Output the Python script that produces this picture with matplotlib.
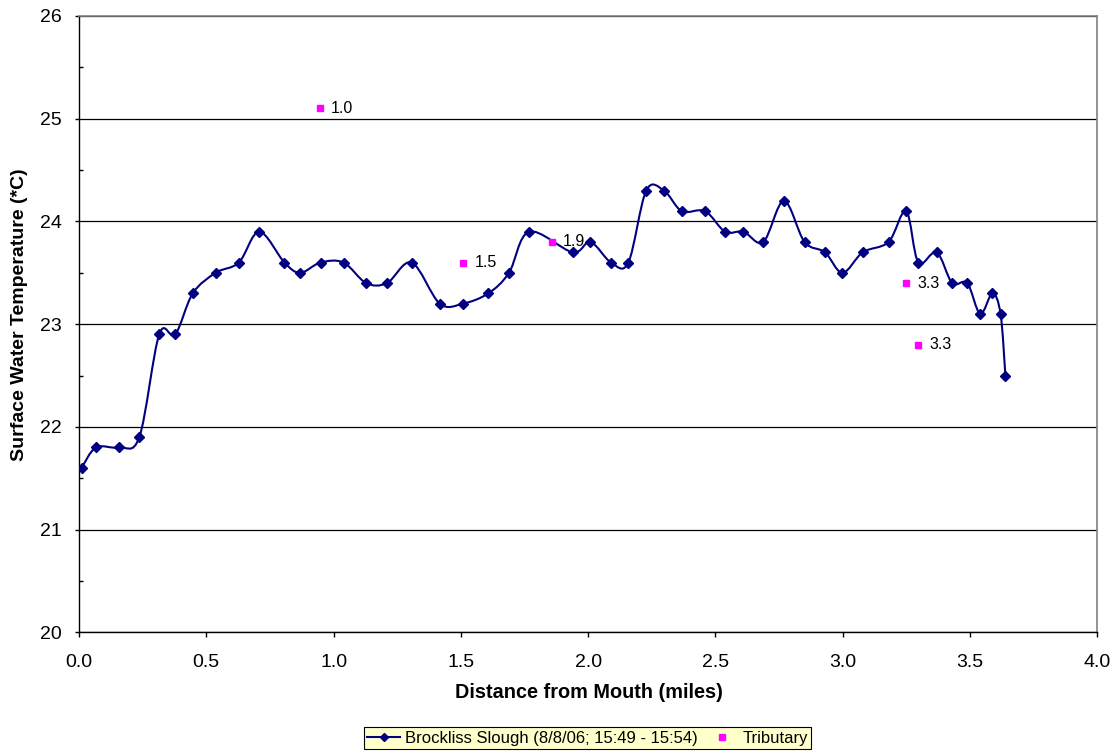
import matplotlib
matplotlib.use("Agg")
import matplotlib.pyplot as plt
from matplotlib.path import Path
from matplotlib.patches import PathPatch
from matplotlib.lines import Line2D
from matplotlib.ticker import MultipleLocator, FormatStrFormatter
import numpy as np

plt.rcParams['font.family'] = ['Liberation Sans', 'DejaVu Sans']

# Main series: Brockliss Slough
dist = [0.01, 0.067, 0.157, 0.237, 0.315, 0.378, 0.447, 0.537, 0.628, 0.708,
        0.807, 0.869, 0.949, 1.039, 1.128, 1.210, 1.307, 1.417, 1.509, 1.608,
        1.689, 1.768, 1.939, 2.009, 2.090, 2.158, 2.228, 2.298, 2.368, 2.459,
        2.538, 2.610, 2.688, 2.769, 2.850, 2.930, 2.999, 3.079, 3.180, 3.249,
        3.297, 3.369, 3.430, 3.489, 3.540, 3.588, 3.620, 3.639]
temp = [21.6, 21.8, 21.8, 21.9, 22.9, 22.9, 23.3, 23.5, 23.6, 23.9,
        23.6, 23.5, 23.6, 23.6, 23.4, 23.4, 23.6, 23.2, 23.2, 23.3,
        23.5, 23.9, 23.7, 23.8, 23.6, 23.6, 24.3, 24.3, 24.1, 24.1,
        23.9, 23.9, 23.8, 24.2, 23.8, 23.7, 23.5, 23.7, 23.8, 24.1,
        23.6, 23.7, 23.4, 23.4, 23.1, 23.3, 23.1, 22.5]

# Tributaries
trib_dist = [0.946, 1.509, 1.858, 3.249, 3.297]
trib_temp = [25.1, 23.6, 23.8, 23.4, 22.8]
trib_labels = ["1.0", "1.5", "1.9", "3.3", "3.3"]

series_label = "Brockliss Slough (8/8/06; 15:49 - 15:54)"
trib_label = "Tributary"

NAVY = '#000080'
MAG = '#FF00FF'

fig = plt.figure(figsize=(11.15, 7.52), dpi=100)
ax = fig.add_axes([79/1115, 1 - 632.3/752, (1097.3 - 79)/1115, (632.3 - 16)/752])

# Smoothed line (Excel-style Bezier through points)
px = np.array(dist)
py = np.array(temp)
n = len(px)
verts = [(px[0], py[0])]
codes = [Path.MOVETO]
for i in range(n - 1):
    p0 = np.array([px[max(i - 1, 0)], py[max(i - 1, 0)]])
    p1 = np.array([px[i], py[i]])
    p2 = np.array([px[i + 1], py[i + 1]])
    p3 = np.array([px[min(i + 2, n - 1)], py[min(i + 2, n - 1)]])
    c1 = p1 + (p2 - p0) / 6.0
    c2 = p2 - (p3 - p1) / 6.0
    verts += [tuple(c1), tuple(c2), tuple(p2)]
    codes += [Path.CURVE4, Path.CURVE4, Path.CURVE4]
path = Path(verts, codes)
ax.add_patch(PathPatch(path, facecolor='none', edgecolor=NAVY, lw=1.5, zorder=3))
ax.plot(dist, temp, linestyle='none', marker='D', ms=4.8, color=NAVY, zorder=4)

ax.plot(trib_dist, trib_temp, linestyle='none', marker='s', ms=5, color=MAG,
        markeredgecolor=MAG, zorder=5)
for xv, yv, lab in zip(trib_dist, trib_temp, trib_labels):
    ax.annotate(lab, (xv, yv), xytext=(8, 0), textcoords='offset points',
                va='center', ha='left', fontsize=11.5, color='black', zorder=6)

ax.set_xlim(0, 4)
ax.set_ylim(20, 26)
ax.xaxis.set_major_locator(MultipleLocator(0.5))
ax.yaxis.set_major_locator(MultipleLocator(1))
ax.yaxis.set_minor_locator(MultipleLocator(0.5))
ax.xaxis.set_major_formatter(FormatStrFormatter('%.1f'))
ax.yaxis.set_major_formatter(FormatStrFormatter('%d'))

ax.grid(axis='y', which='major', color='black', lw=0.9, zorder=1)
ax.set_axisbelow(True)
ax.tick_params(axis='x', which='major', direction='out', length=3.6, width=1,
               labelsize=14, pad=12)
ax.tick_params(axis='y', which='major', direction='out', length=2.9, width=1,
               labelsize=14, pad=9.3)
ax.tick_params(axis='y', which='minor', direction='in', length=2.9, width=1)

for s in ['left', 'bottom']:
    ax.spines[s].set_color('black')
    ax.spines[s].set_linewidth(1.0)
for s in ['right', 'top']:
    ax.spines[s].set_color('#808080')
    ax.spines[s].set_linewidth(1.2)

ax.set_xlabel('Distance from Mouth (miles)', fontsize=14.3, fontweight='bold')
ax.set_ylabel('Surface Water Temperature (*C)', fontsize=14, fontweight='bold')
ax.xaxis.set_label_coords(0.5003, -0.083)
ax.yaxis.set_label_coords(-0.050, 0.515)

handles = [
    Line2D([], [], color=NAVY, lw=1.5, marker='D', ms=4.5),
    Line2D([], [], color=MAG, linestyle='none', marker='s', ms=5),
]
leg = fig.legend(handles, [series_label, trib_label], loc='center',
                 bbox_to_anchor=(587.5/1115, 1 - 738/752), ncol=2,
                 fontsize=12, frameon=True, fancybox=False,
                 edgecolor='black', facecolor='#FFFFCC', framealpha=1,
                 handlelength=2.0, handletextpad=0.25, columnspacing=0.45,
                 borderpad=0.2, borderaxespad=0)
leg.get_frame().set_linewidth(0.8)

fig.savefig('out.png', dpi=100)
